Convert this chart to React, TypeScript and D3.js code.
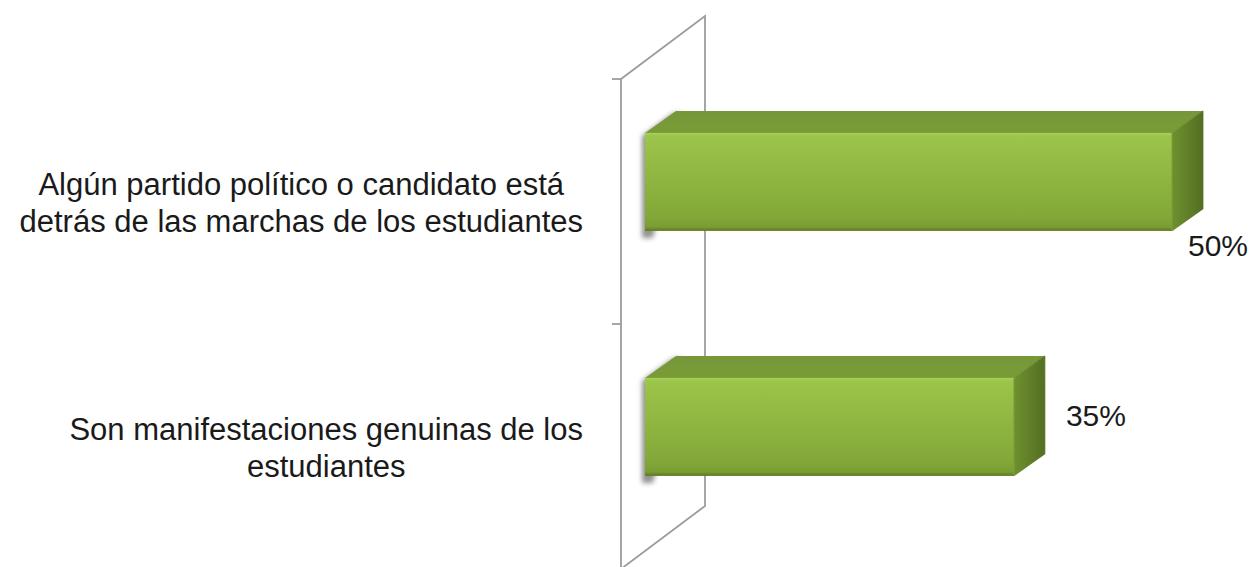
import React, { useEffect, useRef } from "react";
import * as d3 from "d3";

const categories: string[][] = [
  ["Algún partido político o candidato está", "detrás de las marchas de los estudiantes"],
  ["Son manifestaciones genuinas de los", "estudiantes"],
];
const values: number[] = [50, 35];
const valueLabels: string[] = ["50%", "35%"];

const W = 1253;
const H = 567;

export default function App() {
  const ref = useRef<SVGSVGElement | null>(null);

  useEffect(() => {
    document.body.style.margin = "0";
    const svg = d3.select(ref.current!);
    svg.selectAll("*").remove();

    const font = "'Liberation Sans', Arial, sans-serif";
    const catKeys = categories.map((_, i) => String(i));

    // plane geometry
    const wallX = 621;
    const wallDX = 84;
    const wallDY = -63;
    const y = d3.scaleBand<string>().domain(catKeys).range([79, 569]);
    const x = d3.scaleLinear().domain([0, 50]).range([645, 1172]);
    const barDX = 31;
    const barDY = -22;

    const defs = svg.append("defs");
    const gFront = defs.append("linearGradient").attr("id", "gFront").attr("x1", 0).attr("y1", 0).attr("x2", 0).attr("y2", 1);
    gFront.append("stop").attr("offset", "0%").attr("stop-color", "#a9d15b");
    gFront.append("stop").attr("offset", "3%").attr("stop-color", "#9cc54b");
    gFront.append("stop").attr("offset", "85%").attr("stop-color", "#83a838");
    gFront.append("stop").attr("offset", "96%").attr("stop-color", "#7a9d32");
    gFront.append("stop").attr("offset", "100%").attr("stop-color", "#5a7720");
    const gSide = defs.append("linearGradient").attr("id", "gSide").attr("x1", 0).attr("y1", 0).attr("x2", 1).attr("y2", 0);
    gSide.append("stop").attr("offset", "0%").attr("stop-color", "#6f9030");
    gSide.append("stop").attr("offset", "100%").attr("stop-color", "#536f22");
    const gTop = defs.append("linearGradient").attr("id", "gTop").attr("x1", 0).attr("y1", 0).attr("x2", 0).attr("y2", 1);
    gTop.append("stop").attr("offset", "0%").attr("stop-color", "#76973a");
    gTop.append("stop").attr("offset", "100%").attr("stop-color", "#7a9c36");
    const blur = defs.append("filter").attr("id", "blur").attr("x", "-50%").attr("y", "-50%").attr("width", "200%").attr("height", "200%");
    blur.append("feGaussianBlur").attr("stdDeviation", 2.5);

    // wall
    const wall = svg.append("g").attr("stroke", "#9c9c9c").attr("stroke-width", 1.8).attr("fill", "none");
    const [y0, y1] = y.range();
    wall.append("path").attr("d", `M${wallX},${y0}L${wallX},${y1}L${wallX + wallDX},${y1 + wallDY}L${wallX + wallDX},${y0 + wallDY}Z`);
    const ticks = [y0, ...catKeys.slice(1).map((k) => y(k)!), y1];
    ticks.forEach((t) => {
      wall.append("line").attr("x1", wallX - 9).attr("x2", wallX).attr("y1", t).attr("y2", t);
    });

    // bars
    const bw = y.bandwidth();
    const barH = bw * 0.4;
    values.forEach((v, i) => {
      const top = y(catKeys[i])! + bw * 0.22;
      const bot = top + barH;
      const xa = x(0);
      const xb = x(v);
      const g = svg.append("g");
      g.append("path")
        .attr("d", `M${xa - 3},${top + 3}L${xa + barDX - 3},${top + barDY + 2}L${xa + barDX + 6},${top + barDY + 2}L${xa + 8},${bot + 7}L${xa - 3},${bot + 7}Z`)
        .attr("fill", "#777")
        .attr("opacity", 0.8)
        .attr("filter", "url(#blur)");
      g.append("path")
        .attr("d", `M${xa},${top}L${xa + barDX},${top + barDY}L${xb + barDX},${top + barDY}L${xb},${top}Z`)
        .attr("fill", "url(#gTop)");
      g.append("path")
        .attr("d", `M${xb},${top}L${xb + barDX},${top + barDY}L${xb + barDX},${bot + barDY}L${xb},${bot}Z`)
        .attr("fill", "url(#gSide)")
        .attr("stroke", "url(#gSide)")
        .attr("stroke-width", 0.8)
        .attr("stroke-linejoin", "round");
      g.append("rect").attr("x", xa).attr("y", top).attr("width", xb - xa).attr("height", barH).attr("fill", "url(#gFront)");
      g.append("line").attr("x1", xb).attr("x2", xb).attr("y1", top).attr("y2", bot).attr("stroke", "#7fa035").attr("stroke-width", 1);

      // value label
      const lbl = svg.append("text").text(valueLabels[i]).attr("font-family", font).attr("font-size", 30).attr("fill", "#1a1a1a");
      const lw = (lbl.node() as SVGTextElement).getComputedTextLength();
      const rx = xb + barDX + 21;
      if (rx + lw < W - 4) {
        lbl.attr("x", rx).attr("y", (top + bot) / 2 + barDY / 2 + 10);
      } else {
        lbl.attr("x", xb + 16).attr("y", bot + 25);
      }
    });

    // category labels
    const labelRight = 583;
    const lineH = 36.5;
    categories.forEach((lines, i) => {
      const cy = y(catKeys[i])! + bw / 2 + 1;
      const t = svg.append("text").attr("font-family", font).attr("font-size", 31).attr("fill", "#1a1a1a").attr("text-anchor", "middle");
      const spans = lines.map((s, j) =>
        t.append("tspan").text(s).attr("y", cy - ((lines.length - 1) * lineH) / 2 + j * lineH + 11)
      );
      const maxW = d3.max(spans, (sp) => (sp.node() as SVGTSpanElement).getComputedTextLength()) || 0;
      spans.forEach((sp) => sp.attr("x", labelRight - maxW / 2));
    });
  }, []);

  return <svg ref={ref} width={W} height={H} style={{ display: "block", background: "#fff" }} />;
}
